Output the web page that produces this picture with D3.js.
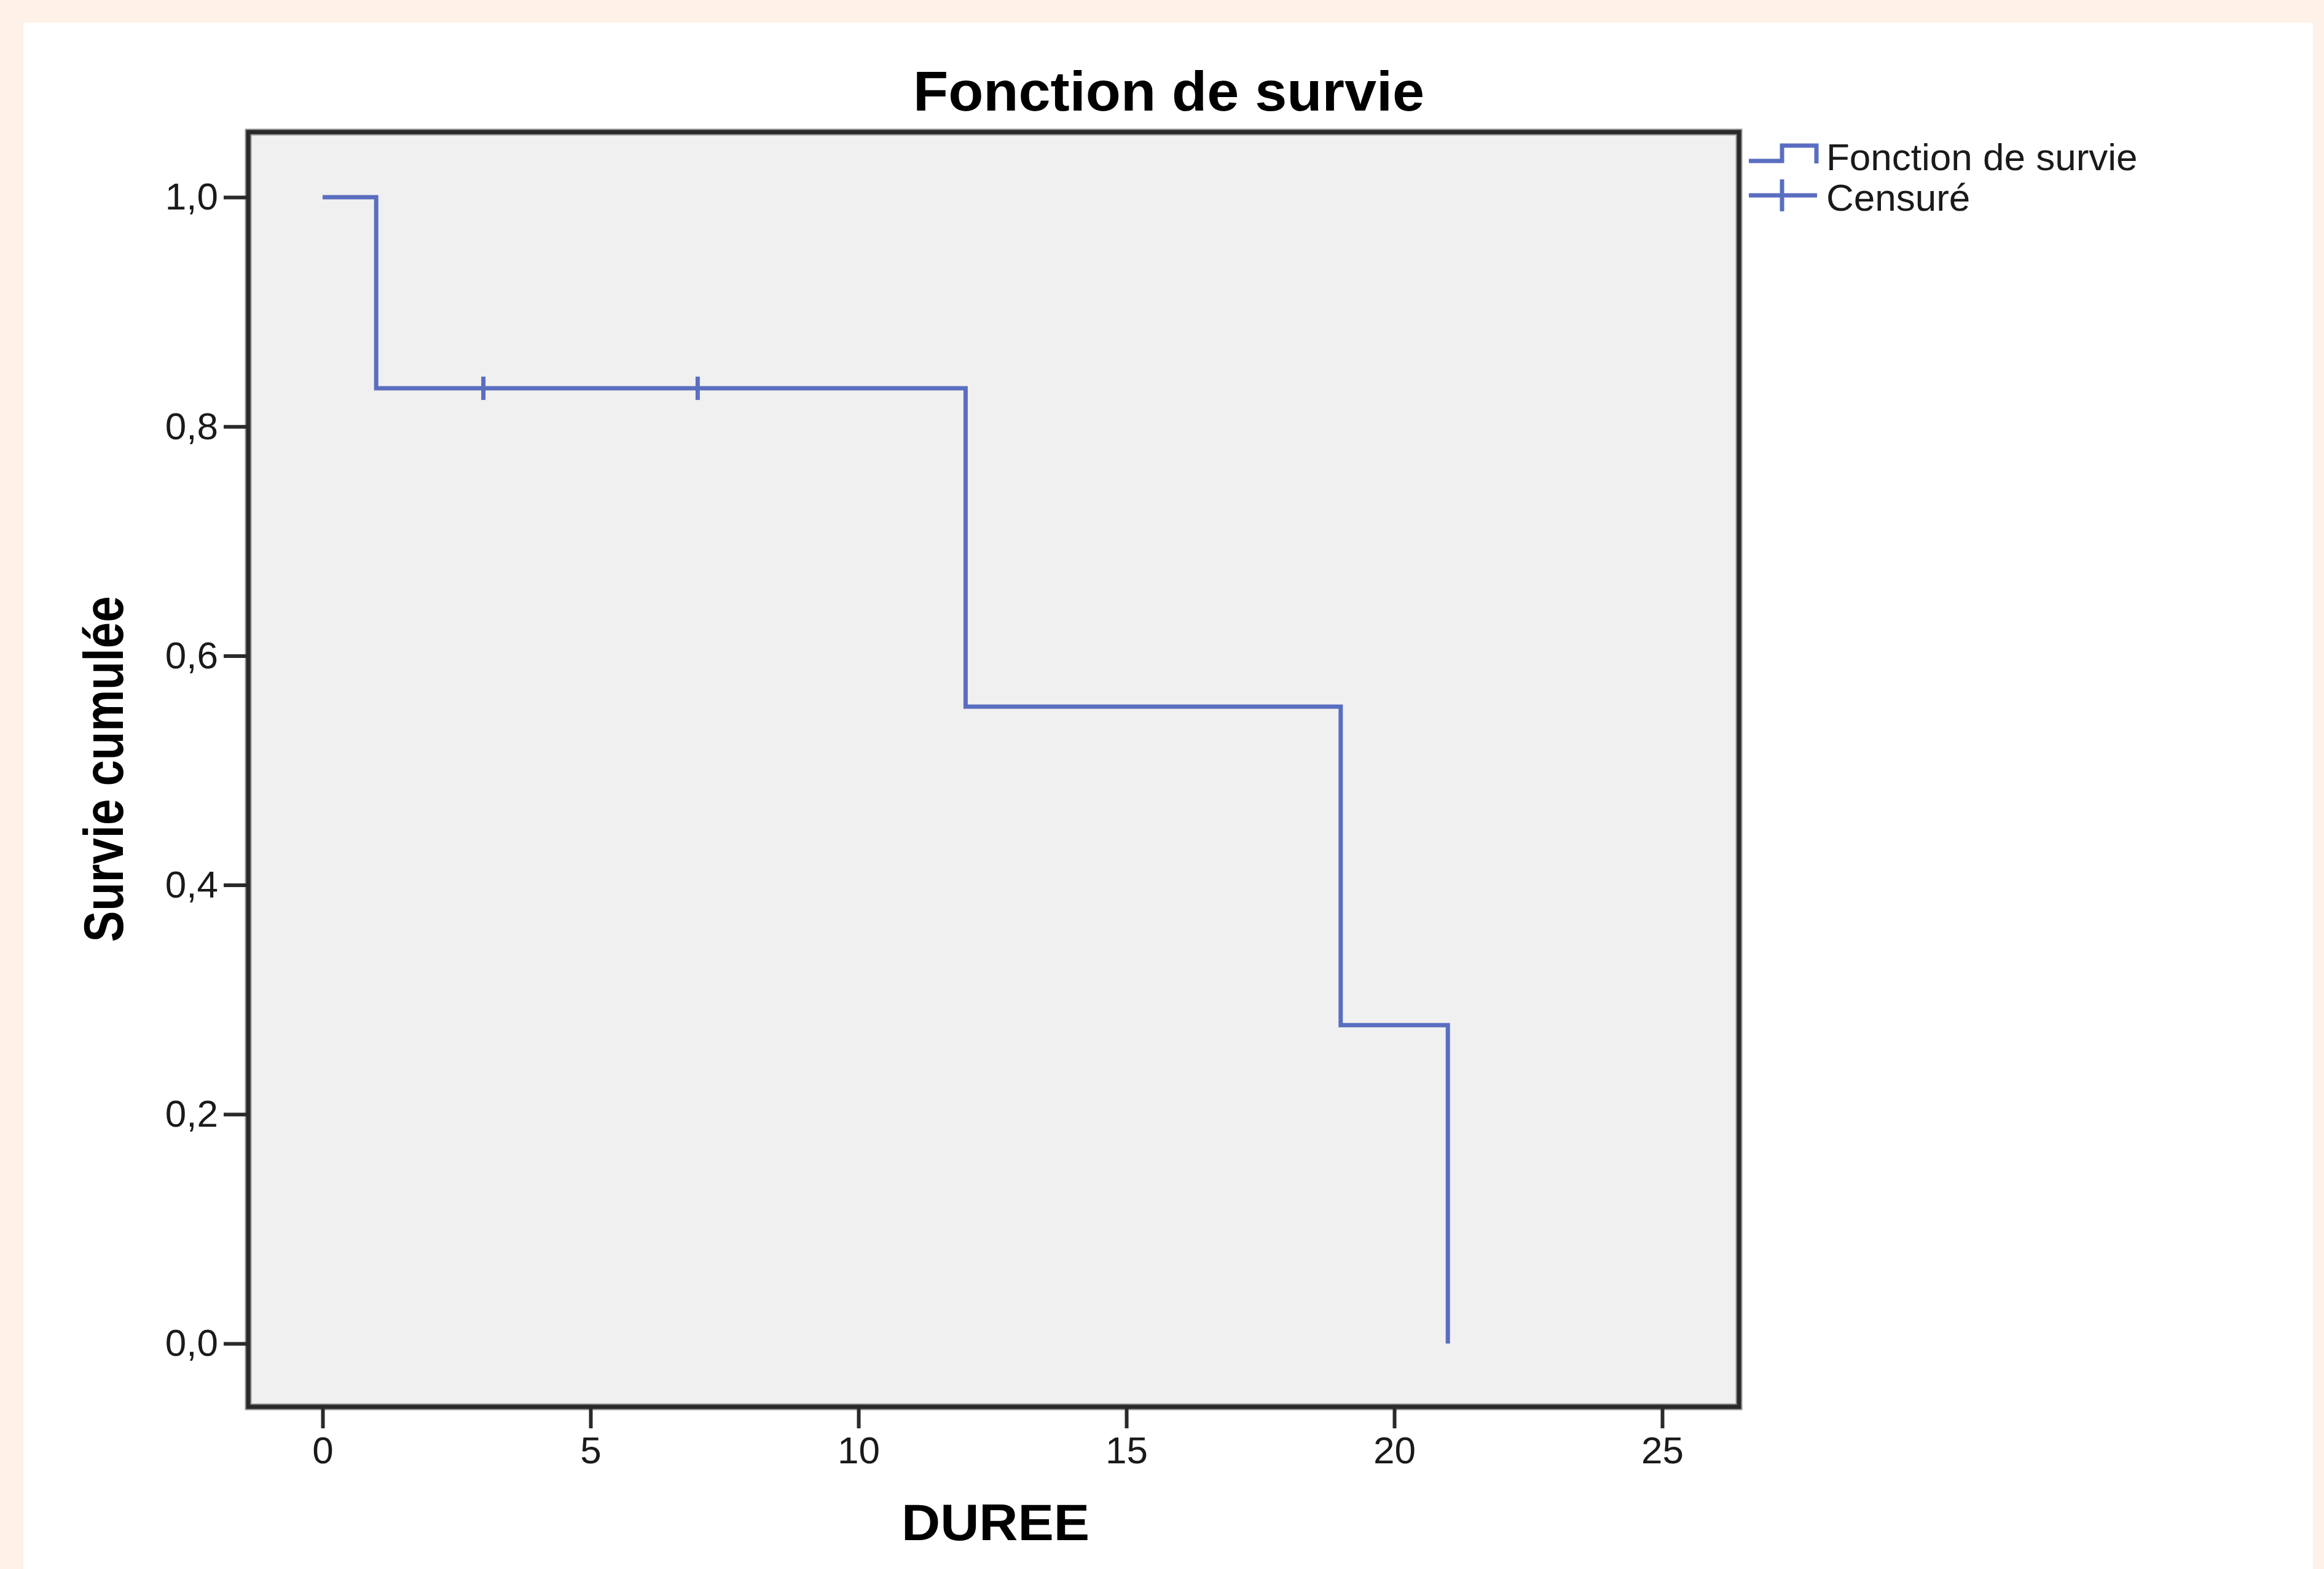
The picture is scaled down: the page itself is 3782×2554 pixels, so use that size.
<!DOCTYPE html>
<html>
<head>
<meta charset="utf-8">
<script src="https://cdn.jsdelivr.net/npm/d3@7"></script>
<style>
  html, body { margin: 0; padding: 0; background: #fdf1e8; }
  svg { display: block; }
  text { font-family: "Liberation Sans", Arial, sans-serif; }
</style>
</head>
<body>
<svg></svg>
<script>
let WIDTH = 3782;
let HEIGHT = 2554;

// Kaplan-Meier data
let eventTimes = [0, 1, 12, 19, 21];
let survival = [1.0, 0.8333, 0.5556, 0.2778, 0.0];
let censorTimes = [3, 7];
let censorSurvival = [0.8333, 0.8333];
let xTicks = [0, 5, 10, 15, 20, 25];
let yTicks = [0.0, 0.2, 0.4, 0.6, 0.8, 1.0];
let legendLabels = ['Fonction de survie', 'Censuré'];

const BLUE = '#5a6ec0';
const frame = { left: 404, right: 2830, top: 215, bottom: 2290 };

let svg = d3.select('svg')
    .attr('width', WIDTH)
    .attr('height', HEIGHT);

// white panel on peach background
svg.append('rect')
    .attr('x', 38).attr('y', 37)
    .attr('width', 3764 - 38).attr('height', HEIGHT - 37)
    .attr('fill', '#ffffff');

let x = d3.scaleLinear().domain([0, 25]).range([525, 2705]);
let y = d3.scaleLinear().domain([0, 1]).range([2187, 321]);

// plot area
svg.append('rect')
    .attr('x', frame.left).attr('y', frame.top)
    .attr('width', frame.right - frame.left)
    .attr('height', frame.bottom - frame.top)
    .attr('fill', '#f0f0f0')
    .attr('stroke', '#9a9a9a')
    .attr('stroke-width', 11);
svg.append('rect')
    .attr('x', frame.left).attr('y', frame.top)
    .attr('width', frame.right - frame.left)
    .attr('height', frame.bottom - frame.top)
    .attr('fill', 'none')
    .attr('stroke', '#2a2a2a')
    .attr('stroke-width', 7);

let locale = d3.formatLocale({ decimal: ',', thousands: ' ', grouping: [3], currency: ['', '€'] });

// axes
let yAxis = svg.append('g')
    .attr('transform', `translate(${frame.left},0)`)
    .call(d3.axisLeft(y).tickValues(yTicks).tickSize(40).tickPadding(9)
        .tickFormat(locale.format('.1f')));
let xAxis = svg.append('g')
    .attr('transform', `translate(0,${frame.bottom})`)
    .call(d3.axisBottom(x).tickValues(xTicks).tickSize(35).tickPadding(13)
        .tickFormat(d3.format('d')));
for (const axis of [xAxis, yAxis]) {
    axis.select('.domain').remove();
    axis.selectAll('line').attr('stroke', '#2a2a2a').attr('stroke-width', 6);
    axis.selectAll('text')
        .attr('fill', '#1a1a1a')
        .style('font-size', '62px')
        .style('font-family', '"Liberation Sans", Arial, sans-serif');
}

// survival step line
let points = eventTimes.map((t, i) => [t, survival[i]]);
let line = d3.line()
    .x((d) => x(d[0]))
    .y((d) => y(d[1]))
    .curve(d3.curveStepAfter);
svg.append('path')
    .datum(points)
    .attr('d', line)
    .attr('fill', 'none')
    .attr('stroke', BLUE)
    .attr('stroke-width', 7);

// censor marks
svg.append('g')
    .selectAll('line')
    .data(censorTimes.map((t, i) => [t, censorSurvival[i]]))
    .enter()
    .append('line')
        .attr('x1', (d) => x(d[0]))
        .attr('x2', (d) => x(d[0]))
        .attr('y1', (d) => y(d[1]) - 19)
        .attr('y2', (d) => y(d[1]) + 19)
        .attr('stroke', BLUE)
        .attr('stroke-width', 7);

// titles
svg.append('text')
    .attr('x', 1902).attr('y', 180)
    .attr('text-anchor', 'middle')
    .attr('textLength', 832)
    .attr('lengthAdjust', 'spacingAndGlyphs')
    .style('font-size', '91px')
    .style('font-weight', 'bold')
    .text('Fonction de survie');
svg.append('text')
    .attr('x', 1620).attr('y', 2507)
    .attr('text-anchor', 'middle')
    .attr('textLength', 306)
    .attr('lengthAdjust', 'spacingAndGlyphs')
    .style('font-size', '84px')
    .style('font-weight', 'bold')
    .text('DUREE');
svg.append('text')
    .attr('transform', 'translate(200,1252) rotate(-90)')
    .attr('text-anchor', 'middle')
    .attr('textLength', 563)
    .attr('lengthAdjust', 'spacingAndGlyphs')
    .style('font-size', '90px')
    .style('font-weight', 'bold')
    .text('Survie cumulée');

// legend
let legend = svg.append('g');
legend.append('path')
    .attr('d', 'M2846,262 H2900 V237 H2956 V266')
    .attr('fill', 'none')
    .attr('stroke', BLUE)
    .attr('stroke-width', 7);
legend.append('path')
    .attr('d', 'M2846,318 H2957 M2900,292 V344')
    .attr('fill', 'none')
    .attr('stroke', BLUE)
    .attr('stroke-width', 7);
legend.selectAll('text')
    .data(legendLabels)
    .enter()
    .append('text')
        .attr('x', 2972)
        .attr('y', (d, i) => 277 + i * 66)
        .attr('fill', '#1a1a1a')
        .style('font-size', '62px')
        .text((d) => d);
</script>
</body>
</html>
